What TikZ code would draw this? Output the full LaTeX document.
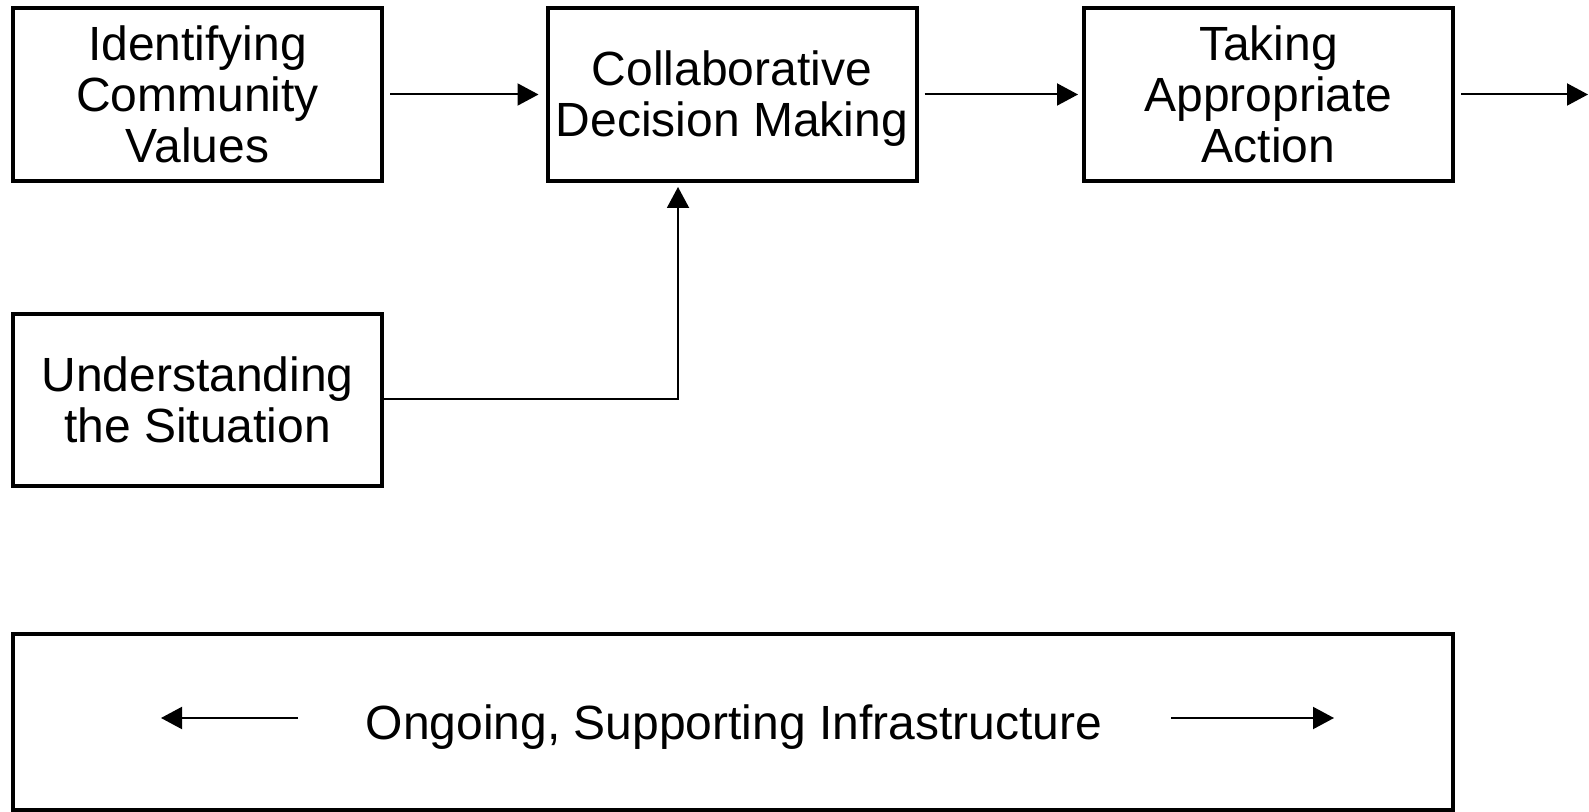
\documentclass[tikz,border=0pt]{standalone}
\usepackage{fontspec}
\setmainfont{Liberation Sans}
\usetikzlibrary{arrows.meta}
\begin{document}
\begin{tikzpicture}[x=0.5pt,y=-0.5pt,
  labeltext/.style={align=center, inner sep=0pt,
    font=\fontsize{24pt}{25.4pt}\selectfont},
  stagebox/.style={draw, line width=2pt, labeltext,
    minimum width=184.5pt, minimum height=86.5pt},
  flow/.style={line width=1pt, -{Triangle[length=10.5pt,width=11pt]}}]
\useasboundingbox (0,0) rectangle (1589,812);

% process stages
\node[stagebox] (values) at (197.5,94.5) {Identifying\\Community\\Values};
\node[stagebox] (decide) at (732,94.5) {};
\node[labeltext] (decidetext) at (732,98.5) {Collaborative\\Decision Making};
\node[stagebox] (action) at (1268.5,94.5) {Taking\\Appropriate\\Action};
\node[stagebox, minimum height=86pt] (situation) at (197.5,400) {Understanding\\the Situation};

% infrastructure band
\node[draw, line width=2pt, minimum width=720pt, minimum height=88pt,
  inner sep=0pt] (infra) at (733,722) {};
\node[labeltext] (infralabel) at (734,727)
  {Ongoing, Supporting Infrastructure};
\coordinate (lstart) at (298,718);
\coordinate (lend) at (161,718);
\coordinate (rstart) at (1171,718);
\coordinate (rend) at (1334,718);
\coordinate (out) at (1588,94.5);

% connectors
\draw[flow, shorten <=3pt, shorten >=3.5pt] (values.east) -- (decide.west);
\draw[flow, shorten <=3pt, shorten >=2pt] (decide.east) -- (action.west);
\draw[flow, shorten <=3pt] (action.east) -- (out);
\draw[flow, shorten >=2pt] (situation.east |- 0,399) -| ([xshift=-27pt]decide.south);
\draw[flow] (lstart) -- (lend);
\draw[flow] (rstart) -- (rend);
\end{tikzpicture}
\end{document}
